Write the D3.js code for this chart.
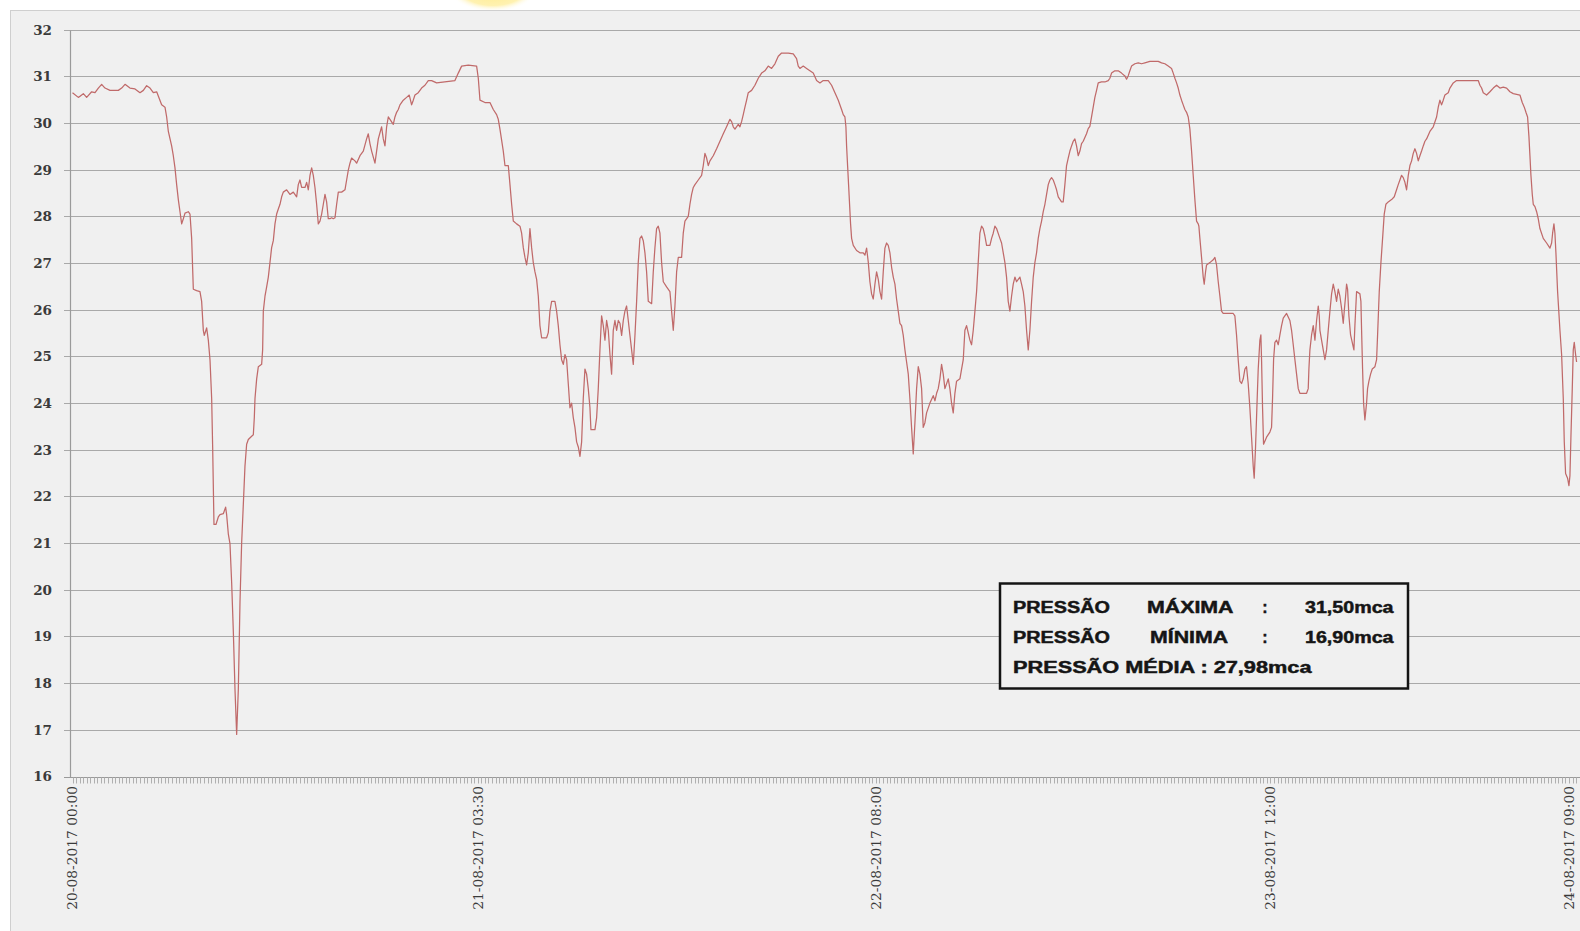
<!DOCTYPE html>
<html><head><meta charset="utf-8">
<script src="https://cdn.jsdelivr.net/npm/d3@7"></script>
<style>html,body{margin:0;padding:0;background:#fff;overflow:hidden}</style>
</head><body><svg id="c" width="1580" height="931"></svg>
<script>
// ---------- data ----------
const yTicks = [16,17,18,19,20,21,22,23,24,25,26,27,28,29,30,31,32];
const tickIdx = [0, 114, 226, 337, 421];
const tickLabels = ["20-08-2017 00:00","21-08-2017 03:30","22-08-2017 08:00","23-08-2017 12:00","24-08-2017 09:00"];
const sampleCount = 424;
const summaryNames = ["MÁXIMA","MÍNIMA","MÉDIA"];
const summaryValues = [31.50, 16.90, 27.98];

// [sample index, pressure (mca)]
const trace1 = [[0,30.65],[1.64,30.55],[3.05,30.63],[3.98,30.55],[5.39,30.67],[6.33,30.65],[7.27,30.75],[8.20,30.83],[9.14,30.75],[10.55,30.70],[12.89,30.70],[13.83,30.75],[14.77,30.83],[16.17,30.75],[17.58,30.73],[18.99,30.65],[19.93,30.70],[20.86,30.80],[21.80,30.75],[22.74,30.65],[23.68,30.67],[24.43,30.52],[25.08,30.39],[26.02,30.34],[26.49,30.13],[26.96,29.82],[27.89,29.51],[28.36,29.30],[28.83,29.04],[29.30,28.68],[29.77,28.36],[30.24,28.10],[30.71,27.84],[31.18,27.95],[31.65,28.07],[32.58,28.10],[33.05,28.05],[33.52,27.53],[33.99,26.44],[34.93,26.41],[35.86,26.39],[36.33,26.18],[36.80,25.56],[37.08,25.45],[37.74,25.61],[38.21,25.35],[38.68,24.93],[39.15,24.10],[39.43,23.06],[39.80,21.40],[40.36,21.40],[41.02,21.56],[41.49,21.61],[42.43,21.63],[43.08,21.77],[43.36,21.61],[43.83,21.20],[44.30,20.99],[44.77,20.16],[45.24,19.12],[45.71,17.87],[46.18,16.90],[46.65,17.87],[47.12,19.74],[47.58,20.99],[48.05,21.82],[48.52,22.65],[48.99,23.12],[49.46,23.22],[50.40,23.29],[50.87,23.32],[51.15,23.69],[51.34,24.10],[51.81,24.52],[52.28,24.78],[53.21,24.83],[53.49,25.14],[53.68,25.97],[54.15,26.29],[54.62,26.49],[55.09,26.70],[55.55,27.01],[56.02,27.33],[56.49,27.48],[56.96,27.84],[57.43,28.05],[57.90,28.16],[58.37,28.26],[58.84,28.42],[59.30,28.52],[60.24,28.57],[61.18,28.47],[62.12,28.52],[63.05,28.42],[63.52,28.68],[63.99,28.78],[64.46,28.62],[65.40,28.62],[65.87,28.73],[66.34,28.57],[66.81,28.88],[67.28,29.04],[67.74,28.88],[68.21,28.62],[68.68,28.26],[69.15,27.84],[69.62,27.90],[70.09,28.05],[70.56,28.26],[71.03,28.47],[71.49,28.31],[71.96,27.95],[72.43,27.95],[72.90,27.97],[73.37,27.95],[73.84,27.97],[74.31,28.26],[74.78,28.52],[75.71,28.52],[76.65,28.57],[77.12,28.78],[77.59,28.99],[78.06,29.14],[78.52,29.25],[79.46,29.19],[79.93,29.14],[80.87,29.30],[81.81,29.40],[82.74,29.66],[83.21,29.77],[83.68,29.56],[84.15,29.40],[85.09,29.14],[86.03,29.66],[86.96,29.92],[87.43,29.66],[87.90,29.51],[88.37,29.92],[88.84,30.13],[89.31,30.08],[90.24,29.97],[90.71,30.13],[91.18,30.23],[91.65,30.29],[92.12,30.39],[93.06,30.49],[93.99,30.55],[94.74,30.60],[95.40,30.39],[95.87,30.49],[96.34,30.60],[97.27,30.65],[98.21,30.75],[99.15,30.81],[100.09,30.91],[101.03,30.91],[102.43,30.86]];

const trace2 = [[107.59,30.91],[108.53,31.07],[109.47,31.22],[111.34,31.24],[113.69,31.22],[114.16,30.96],[114.63,30.49],[116.03,30.44],[117.44,30.44],[118.38,30.29],[119.31,30.18],[119.78,30.08],[120.25,29.87],[121.19,29.40],[121.66,29.09],[122.60,29.09],[123.07,28.68],[123.54,28.26],[124.01,27.90],[124.94,27.84],[125.88,27.79],[126.35,27.64],[126.82,27.33],[127.29,27.12],[127.75,26.96],[128.22,27.22],[128.69,27.74],[129.16,27.33],[129.63,27.01],[130.10,26.81],[130.57,26.65],[131.04,26.29],[131.50,25.66],[131.97,25.40],[133.38,25.40],[133.85,25.51],[134.32,25.97],[134.79,26.18],[135.72,26.18],[136.19,25.97],[136.66,25.66],[137.13,25.25],[137.60,24.93],[138.07,24.83],[138.54,25.04],[139.01,24.93],[139.47,24.42],[139.94,23.90],[140.41,24.00],[140.88,23.69],[141.35,23.48],[141.82,23.17],[142.29,23.06],[142.76,22.86],[143.23,23.17],[143.69,24.10],[144.16,24.73],[144.63,24.62],[145.10,24.31],[145.57,23.90],[145.85,23.43],[146.98,23.43],[147.45,23.69],[147.91,24.31],[148.38,25.14],[148.85,25.87],[149.32,25.66],[149.79,25.35],[150.26,25.77],[150.73,25.56],[151.20,25.04],[151.66,24.62],[152.13,25.56],[152.60,25.77],[153.07,25.56],[153.54,25.77],[154.01,25.71],[154.48,25.45],[154.95,25.77],[155.41,25.97],[155.88,26.08],[156.35,25.77],[156.82,25.45],[157.29,25.14],[157.76,24.83],[158.23,25.45],[158.70,26.18],[159.16,27.01],[159.63,27.53],[160.10,27.58],[160.57,27.48],[161.04,27.22],[161.51,26.81],[161.98,26.18],[162.92,26.13],[163.38,26.81],[163.85,27.33],[164.32,27.74],[164.79,27.79],[165.26,27.64],[165.73,27.01],[166.20,26.60],[167.13,26.49],[168.07,26.39],[168.54,25.97],[169.01,25.56],[169.48,26.08],[169.95,26.81],[170.42,27.12],[171.35,27.12],[171.82,27.64],[172.29,27.90],[173.23,28.00],[173.70,28.26],[174.17,28.47],[174.64,28.62],[175.11,28.68],[176.04,28.78],[176.98,28.88],[177.45,29.09],[177.92,29.35],[178.39,29.25],[178.86,29.09],[179.33,29.19],[180.26,29.30],[181.20,29.45],[182.14,29.61],[183.08,29.77],[184.01,29.92],[184.95,30.08],[185.42,30.03],[185.89,29.92],[186.36,29.87],[187.30,29.97],[187.76,29.92],[188.23,30.03],[188.70,30.18],[189.17,30.34],[189.64,30.49],[190.11,30.65],[191.05,30.70],[191.98,30.81],[192.92,30.96],[193.86,31.07],[194.79,31.12],[195.73,31.22],[196.67,31.17],[197.61,31.27],[198.55,31.43],[199.48,31.50],[201.36,31.50],[202.77,31.48],[203.70,31.38],[204.17,31.22],[204.64,31.17],[205.58,31.22],[206.52,31.17],[207.45,31.12],[208.39,31.07],[209.33,30.91],[210.27,30.86]];

const trace3 = [[211.20,30.91],[212.61,30.91],[213.55,30.81],[214.49,30.65],[215.43,30.49],[216.36,30.29],[216.83,30.18],[217.30,30.13],[217.58,29.92],[217.77,29.51],[218.05,29.09],[218.33,28.68],[218.61,28.26],[218.89,27.84],[219.18,27.53],[219.65,27.38],[220.58,27.27],[221.52,27.22],[222.46,27.22],[222.93,27.17],[223.40,27.32],[223.87,27.02],[224.33,26.60],[224.80,26.34],[225.27,26.23],[225.74,26.55],[226.21,26.81],[226.68,26.65],[227.15,26.39],[227.62,26.23],[228.08,26.81],[228.55,27.32],[229.02,27.43],[229.49,27.38],[229.96,27.22],[230.43,26.91],[230.90,26.70],[231.37,26.55],[231.83,26.23],[232.30,25.97],[232.77,25.71],[233.24,25.66],[233.71,25.45],[234.18,25.14],[234.65,24.88],[235.12,24.62],[235.58,24.10],[236.05,23.48],[236.52,22.91],[236.99,23.58],[237.46,24.31],[237.93,24.78],[238.40,24.62],[238.87,24.31],[239.33,23.48],[239.80,23.58],[240.27,23.79],[241.21,24.00],[242.15,24.16],[242.62,24.05],[243.09,24.21],[243.55,24.31],[244.02,24.52],[244.49,24.83],[244.96,24.62],[245.43,24.31],[246.37,24.52],[246.83,24.31],[247.30,24.00],[247.77,23.79],[248.24,24.21],[248.71,24.47],[249.65,24.52],[250.12,24.73],[250.59,24.93],[251.05,25.56],[251.52,25.66],[252.46,25.35],[252.93,25.25],[253.40,25.56],[253.87,25.97],[254.34,26.39],[254.80,27.01],[255.27,27.64],[255.74,27.79],[256.21,27.74],[256.68,27.58],[257.15,27.38],[258.09,27.38],[258.56,27.53],[259.02,27.64],[259.49,27.79],[259.96,27.74],[260.90,27.53],[261.37,27.43],[261.84,27.22],[262.31,27.01],[262.77,26.70],[263.24,26.18],[263.71,25.97],[264.18,26.29],[264.65,26.55],[265.12,26.70],[265.59,26.60],[266.06,26.65],[266.53,26.70],[266.99,26.55],[267.46,26.39],[267.93,26.08],[268.40,25.56],[268.87,25.14],[269.34,25.56],[269.81,26.18],[270.28,26.70],[270.74,27.01],[271.21,27.22],[271.68,27.53],[272.15,27.74],[272.62,27.90],[273.09,28.10],[273.56,28.26],[274.03,28.47],[274.50,28.68],[274.96,28.78],[275.43,28.83],[275.90,28.78],[276.37,28.68],[276.84,28.57],[277.31,28.42],[278.24,28.31],[278.71,28.31],[279.18,28.68],[279.65,29.09],[280.12,29.25],[280.59,29.40],[281.06,29.51],[281.53,29.61],[281.99,29.66],[282.46,29.51],[282.93,29.30],[283.40,29.40],[283.87,29.56],[284.34,29.61],[285.27,29.77],[285.74,29.88],[286.21,29.93],[286.68,30.13],[287.15,30.34],[287.62,30.55],[288.09,30.70],[288.56,30.86],[289.49,30.88],[290.43,30.88],[291.37,30.91],[291.84,30.96],[292.31,31.07],[293.24,31.12],[294.18,31.12],[295.12,31.07],[296.06,31.01],[296.53,30.94],[296.99,31.01],[297.46,31.12],[297.93,31.22],[298.87,31.27],[299.81,31.29],[300.75,31.27],[301.68,31.29],[303.09,31.32],[305.44,31.32],[306.38,31.29],[307.31,31.27],[308.25,31.22],[309.19,31.17],[309.66,31.07],[310.13,30.96],[310.60,30.86],[311.06,30.75],[311.53,30.60],[312.00,30.49],[312.47,30.39],[312.94,30.29],[313.41,30.23],[313.88,30.13],[314.35,29.87]];

const trace4 = [[314.82,29.40],[315.28,28.88],[315.75,28.36],[316.22,27.90],[316.69,27.84],[316.88,27.79],[317.16,27.53],[317.63,27.12],[318.10,26.70],[318.38,26.55],[318.75,26.81],[319.04,26.96],[319.97,27.01],[320.91,27.07],[321.38,27.12],[321.85,26.96],[322.32,26.60],[322.79,26.29],[323.25,25.97],[323.72,25.92],[326.54,25.92],[327.00,25.87],[327.47,25.46],[327.94,24.93],[328.41,24.47],[328.88,24.42],[329.35,24.52],[329.82,24.73],[330.28,24.78],[330.75,24.42],[331.22,23.90],[331.69,23.28],[332.16,22.65],[332.44,22.39],[332.82,23.06],[333.19,23.90],[333.57,24.73],[334.04,25.35],[334.32,25.46],[334.51,24.93],[334.79,23.90],[335.07,23.12],[335.92,23.27],[336.85,23.38],[337.32,23.48],[337.60,24.10],[337.89,24.93],[338.26,25.30],[338.73,25.35],[339.20,25.25],[339.67,25.46],[340.14,25.66],[340.61,25.82],[341.55,25.92],[342.48,25.77],[342.95,25.56],[343.42,25.25],[343.89,24.93],[344.36,24.62],[344.83,24.31],[345.29,24.21],[347.17,24.21],[347.64,24.31],[347.83,24.73],[348.11,25.14],[348.58,25.46],[349.05,25.66],[349.52,25.35],[349.99,25.77],[350.46,26.08],[350.74,25.87],[350.93,25.56],[351.39,25.35],[351.86,25.14],[352.33,24.93],[352.80,25.14],[353.27,25.56],[353.74,25.97],[354.21,26.34],[354.68,26.55],[355.14,26.39],[355.61,26.18],[356.08,26.44],[356.55,26.29],[357.02,26.03],[357.49,25.71],[357.77,25.97],[358.15,26.29],[358.43,26.55],[358.71,26.44],[359.08,25.87],[359.55,25.46],[360.02,25.30],[360.49,25.14],[360.77,25.66],[361.24,26.39],[362.18,26.34],[362.46,26.18],[362.65,25.56],[362.93,24.73],[363.21,24.00],[363.58,23.64],[364.05,24.00],[364.33,24.31],[364.71,24.47],[365.18,24.62],[365.65,24.73],[366.40,24.78],[366.87,24.93],[367.15,25.46],[367.62,26.39],[368.09,27.01],[368.56,27.53],[369.02,28.05],[369.49,28.26],[370.15,28.31],[371.09,28.36],[371.84,28.42],[372.49,28.57],[372.96,28.68],[373.43,28.78],[373.90,28.88],[374.37,28.83],[374.84,28.73],[375.31,28.57],[375.78,28.88],[376.25,29.09],[376.72,29.19],[377.18,29.35],[377.65,29.45],[378.12,29.35],[378.59,29.19],[379.06,29.30],[379.53,29.40],[380.00,29.51],[380.47,29.61],[380.93,29.66],[381.87,29.82],[382.81,29.92],[383.75,30.13],[384.22,30.34],[384.68,30.49],[385.15,30.39],[385.62,30.49],[386.09,30.60],[387.03,30.65],[387.50,30.75],[388.44,30.86],[389.37,30.91],[395.47,30.91],[395.94,30.81],[396.41,30.75],[396.88,30.65],[397.82,30.60],[398.76,30.67],[399.70,30.75],[400.63,30.81],[401.57,30.75],[402.51,30.77],[403.45,30.75],[404.38,30.67],[405.32,30.63],[407.20,30.60],[407.85,30.44],[408.42,30.34],[408.89,30.23],[409.35,30.13],[409.73,29.71],[410.01,29.30],[410.29,28.88],[410.67,28.47],[410.95,28.26],[411.42,28.21],[411.89,28.10],[412.35,27.95],[412.82,27.74],[413.76,27.53],[414.70,27.43],[415.64,27.32],[416.11,27.43],[416.39,27.64],[416.76,27.84],[417.04,27.64],[417.32,27.22],[417.79,26.39],[418.45,25.56],[418.92,25.04],[419.39,24.10],[419.67,23.17],[420.04,22.49],[420.60,22.39],[420.98,22.23],[421.26,22.44],[421.54,23.27],[421.92,24.31],[422.20,25.14],[422.48,25.30],[422.86,25.04],[423.14,24.88]];

const series = trace1.concat(trace2, trace3, trace4);

// ---------- drawing ----------
const W = 1580, H = 931;
const svg = d3.select("#c");
const x = d3.scaleLinear().domain([0, 421]).range([72.5, 1569]);
const y = d3.scaleLinear().domain([16, 32]).range([776.5, 29.7]);
const crisp = v => Math.round(v) + 0.5;

// yellow glow peeking over the top edge
const defs = svg.append("defs");
const rg = defs.append("radialGradient").attr("id", "glow");
rg.append("stop").attr("offset", "0%").attr("stop-color", "#ffe87a").attr("stop-opacity", 1);
rg.append("stop").attr("offset", "75%").attr("stop-color", "#fff0a8").attr("stop-opacity", 0.9);
rg.append("stop").attr("offset", "100%").attr("stop-color", "#ffffff").attr("stop-opacity", 0);
svg.append("ellipse").attr("cx", 493).attr("cy", -14).attr("rx", 46).attr("ry", 26).attr("fill", "url(#glow)");

// panel
svg.append("rect").attr("x", 10.5).attr("y", 10.5).attr("width", W).attr("height", H)
  .attr("fill", "#f0f0f0").attr("stroke", "#cfcfcf").attr("stroke-width", 1);

// horizontal grid lines (with small left ticks)
svg.append("g").selectAll("line").data(yTicks).join("line")
  .attr("x1", 64).attr("x2", W)
  .attr("y1", d => crisp(y(d))).attr("y2", d => crisp(y(d)))
  .attr("stroke", d => d === 16 ? "#9a9a9a" : "#a9a9a9").attr("stroke-width", 1.2);

// y axis line
svg.append("line").attr("x1", 70.5).attr("x2", 70.5)
  .attr("y1", crisp(y(32))).attr("y2", crisp(y(16)))
  .attr("stroke", "#9a9a9a").attr("stroke-width", 1.2);

// y tick labels
svg.append("g").selectAll("text").data(yTicks).join("text")
  .attr("x", 52).attr("y", d => y(d)).attr("dy", "0.36em")
  .attr("text-anchor", "end")
  .attr("font-family", "'DejaVu Serif', serif").attr("font-weight", "bold")
  .attr("font-size", 13.5).attr("fill", "#3a3a3a")
  .text(d => d);

// x minor ticks (one per sample)
svg.append("g").selectAll("line").data(d3.range(0, sampleCount)).join("line")
  .attr("x1", d => crisp(x(d))).attr("x2", d => crisp(x(d)))
  .attr("y1", crisp(y(16))).attr("y2", crisp(y(16)) + 6)
  .attr("stroke", "#b0b0b0").attr("stroke-width", 1);

// x tick labels (rotated)
svg.append("g").selectAll("text").data(tickIdx).join("text")
  .attr("transform", d => `translate(${x(d)},786) rotate(-90)`)
  .attr("dy", "0.36em").attr("text-anchor", "end")
  .attr("font-family", "'DejaVu Serif', serif")
  .attr("font-size", 13.8).attr("fill", "#3a3a3a")
  .text((d, i) => tickLabels[i]);

// pressure line
svg.append("path").datum(series)
  .attr("fill", "none").attr("stroke", "#c06a6a").attr("stroke-width", 1.25)
  .attr("stroke-linejoin", "round")
  .attr("d", d3.line().x(d => x(d[0])).y(d => y(d[1])));

// summary box
const fmt = v => v.toFixed(2).replace(".", ",") + "mca";
const box = svg.append("g");
box.append("rect").attr("x", 1000).attr("y", 583.5).attr("width", 408).attr("height", 105)
  .attr("fill", "#f0f0f0").attr("stroke", "#141414").attr("stroke-width", 2.5);
const tStyle = sel => sel.attr("font-family", "'Liberation Sans', Arial, sans-serif")
  .attr("font-weight", "bold").attr("font-size", 16).attr("fill", "#151515")
  .attr("stroke", "#151515").attr("stroke-width", 0.45)
  .attr("lengthAdjust", "spacingAndGlyphs");
const rowBase = [612.5, 642.5, 672.5];
const nameX = [1147, 1150];
const nameW = [86.5, 78];
[0, 1].forEach(i => {
  box.append("text").call(tStyle).attr("x", 1013).attr("y", rowBase[i]).attr("textLength", 97).text("PRESSÃO");
  box.append("text").call(tStyle).attr("x", nameX[i]).attr("y", rowBase[i]).attr("textLength", nameW[i]).text(summaryNames[i]);
  box.append("text").call(tStyle).attr("x", 1265).attr("y", rowBase[i]).attr("text-anchor", "middle").text(":");
  box.append("text").call(tStyle).attr("x", 1305).attr("y", rowBase[i]).attr("textLength", 88.5).text(fmt(summaryValues[i]));
});
box.append("text").call(tStyle).attr("x", 1013).attr("y", rowBase[2]).attr("textLength", 298.5)
  .text("PRESSÃO " + summaryNames[2] + " : " + fmt(summaryValues[2]));
</script>
</body></html>
